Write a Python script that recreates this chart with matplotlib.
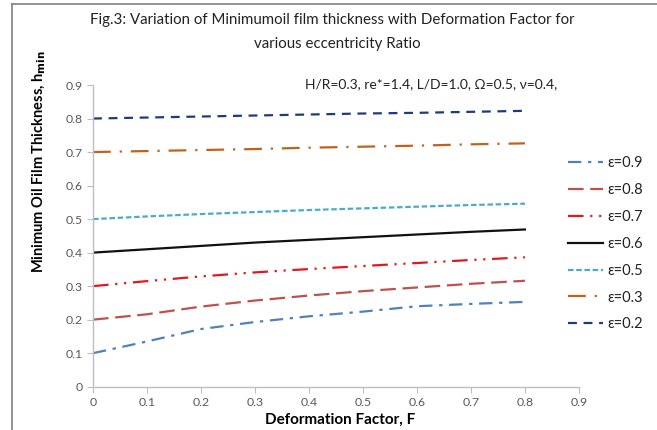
import matplotlib
matplotlib.use("Agg")
import matplotlib.pyplot as plt
from matplotlib.lines import Line2D

F = [0.0, 0.1, 0.2, 0.3, 0.4, 0.5, 0.6, 0.7, 0.8]
eps_labels = ["ε=0.9", "ε=0.8", "ε=0.7", "ε=0.6", "ε=0.5", "ε=0.3", "ε=0.2"]
h_e09 = [0.100, 0.135, 0.172, 0.193, 0.210, 0.224, 0.240, 0.247, 0.253]
h_e08 = [0.200, 0.216, 0.239, 0.257, 0.272, 0.285, 0.296, 0.307, 0.316]
h_e07 = [0.300, 0.315, 0.329, 0.341, 0.351, 0.360, 0.369, 0.378, 0.386]
h_e06 = [0.400, 0.410, 0.420, 0.430, 0.438, 0.446, 0.454, 0.462, 0.469]
h_e05 = [0.500, 0.508, 0.515, 0.521, 0.527, 0.532, 0.537, 0.542, 0.546]
h_e03 = [0.700, 0.703, 0.706, 0.709, 0.713, 0.716, 0.719, 0.723, 0.726]
h_e02 = [0.800, 0.803, 0.806, 0.809, 0.812, 0.815, 0.817, 0.820, 0.823]
x_ticks = [0, 0.1, 0.2, 0.3, 0.4, 0.5, 0.6, 0.7, 0.8, 0.9]
y_ticks = [0, 0.1, 0.2, 0.3, 0.4, 0.5, 0.6, 0.7, 0.8, 0.9]

series = [h_e09, h_e08, h_e07, h_e06, h_e05, h_e03, h_e02]
styles = [
    dict(color="#4F81BD", dashes=(6, 3, 1.5, 3)),
    dict(color="#C0504D", dashes=(7, 3)),
    dict(color="#E0191E", dashes=(7, 3, 1, 3, 1, 3)),
    dict(color="#111111", dashes=()),
    dict(color="#4BACC6", dashes=(2.5, 1.2)),
    dict(color="#C0621A", dashes=(8, 4, 1, 4)),
    dict(color="#1F3C7A", dashes=(4, 3)),
]

plt.rcParams['font.family'] = ['Lato', 'DejaVu Sans']
fig = plt.figure(figsize=(6.57, 4.30), dpi=100)
ax = fig.add_axes([0.1416, 0.1007, 0.7396, 0.7016])

for ys, st, lab in zip(series, styles, eps_labels):
    ln, = ax.plot(F, ys, color=st["color"], lw=1.6, label=lab)
    if st["dashes"]:
        ln.set_dashes(st["dashes"])

ax.set_xlim(0, 0.9)
ax.set_ylim(0, 0.9)
ax.set_xticks(x_ticks)
ax.set_yticks(y_ticks)
ax.set_xticklabels([f"{v:g}" for v in x_ticks])
ax.set_yticklabels([f"{v:g}" for v in y_ticks])
for s in ["top", "right"]:
    ax.spines[s].set_visible(False)
for s in ["left", "bottom"]:
    ax.spines[s].set_color("#BFBFBF")
    ax.spines[s].set_linewidth(1.0)
ax.tick_params(colors="#BFBFBF", labelcolor="#595959", labelsize=8.8, length=4, direction="out")

ax.set_xlabel("Deformation Factor, F", fontsize=11, fontweight="bold")
ax.xaxis.set_label_coords(0.508, -0.085)
ax.set_ylabel("Minimum Oil Film Thickness, h$_{\\mathbf{min}}$", fontsize=10.5, fontweight="bold")
ax.yaxis.set_label_coords(-0.092, 0.745)

fig.text(0.506, 0.953, "Fig.3: Variation of Minimumoil film thickness with Deformation Factor for",
         ha="center", va="center", fontsize=10.8, color="#222222")
fig.text(0.514, 0.897, "various eccentricity Ratio", ha="center", va="center", fontsize=10.8, color="#222222")
fig.text(0.464, 0.804, "H/R=0.3, re*=1.4, L/D=1.0, Ω=0.5, ν=0.4,", ha="left", va="center",
         fontsize=10, color="#222222")

leg = fig.legend(loc="upper left", bbox_to_anchor=(0.8557, 0.650), frameon=False, fontsize=10.5,
                 handlelength=2.4, handletextpad=0.3, labelspacing=0.88, borderaxespad=0.0)
for t in leg.get_texts():
    t.set_color("#222222")

# outer border (left and top)
fig.add_artist(Line2D([12 / 657, 12 / 657], [0, 1 - 4 / 430], transform=fig.transFigure,
                      color="#808080", lw=1.2))
fig.add_artist(Line2D([12 / 657, 1], [1 - 4 / 430, 1 - 4 / 430], transform=fig.transFigure,
                      color="#808080", lw=1.2))

fig.savefig("out.png", dpi=100)
